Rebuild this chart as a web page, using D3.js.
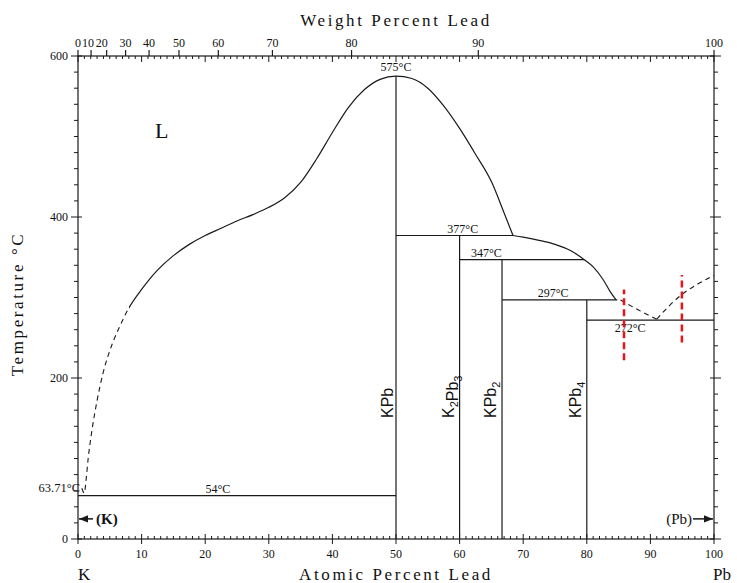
<!DOCTYPE html>
<html>
<head>
<meta charset="utf-8">
<script src="https://cdn.jsdelivr.net/npm/d3@7"></script>
<style>
  body { margin: 0; background: #fff; }
  text { fill: #111; }
</style>
</head>
<body>
<script>
// K-Pb phase diagram

// liquidus pieces, [atomic % Pb, temperature °C]
var liqNearK = [[0.6, 63], [1.0, 57], [1.25, 72], [1.6, 100], [2.1, 130], [3.0, 172], [4.0, 208], [5.0, 234], [6.5, 263]];
var liqMain = [[8.0, 287], [10, 310], [12.5, 334], [15, 352], [17.5, 366], [20, 377], [22.5, 386], [25, 395], [27.5, 403],
               [30, 412], [32.5, 424], [35, 443], [37.5, 472], [40, 505], [42.5, 536], [45, 558], [47.5, 571], [50, 575],
               [52.5, 572], [55, 560], [57.5, 538], [60, 510], [62.5, 478], [65, 444], [67, 405], [68.4, 377]];
var liqLow = [[68.4, 377], [70, 375], [72.5, 371], [75, 366], [77.5, 358], [79.6, 347], [81, 338], [82.5, 323], [83.7, 307], [84.6, 297]];
var liqPbA = [[85.3, 297], [88, 285], [91, 273]];
var liqPbB = [[91, 273], [93, 290], [95, 304], [97.5, 317], [100, 327.5]];
var dashEndAt = 8.0;

// invariant lines
var invT = [54, 377, 347, 297, 272];
var invFrom = [0, 50, 60, 66.67, 80];
var invTo = [50, 68.4, 79.6, 84.8, 100];
var invLabelAt = [22, 60.5, 64.2, 74.7, 86.8];

// compounds
var compAt = [50, 60, 66.67, 80];
var compTop = [575, 377, 347, 297];
var compNames = [[["K", ""], ["Pb", ""]], [["K", "2"], ["Pb", "3"]], [["K", ""], ["Pb", "2"]], [["K", ""], ["Pb", "4"]]];

var atTicks = [0, 10, 20, 30, 40, 50, 60, 70, 80, 90, 100];
var wtTicks = [0, 10, 20, 30, 40, 50, 60, 70, 80, 90, 100];
var tTicks = [0, 200, 400, 600];

// estimated red marks (at%, from T, to T)
var redAt = [85.85, 94.95];
var redFrom = [222, 244];
var redTo = [310, 328];

var W = 737, H = 583;
var svg = d3.select("body").append("svg").attr("width", W).attr("height", H);

var x = d3.scaleLinear().domain([0, 100]).range([78, 714]);
var y = d3.scaleLinear().domain([0, 600]).range([539, 56]);

function wtToAt(w) {
    var a = w / 207.2, b = (100 - w) / 39.098;
    return 100 * a / (a + b);
}

var serif = "'Liberation Serif', 'DejaVu Serif', serif";
var sans = "'Liberation Sans', Arial, sans-serif";
var ink = "#1a1a1a";

var defs = svg.append("defs");
var g = svg.append("g");

// frame
g.append("rect").attr("x", x(0)).attr("y", y(600)).attr("width", x(100) - x(0)).attr("height", y(0) - y(600))
    .attr("fill", "none").attr("stroke", ink).attr("stroke-width", 1.2);

// bottom and top atomic ticks
var atMinor = d3.range(0, 101, 1);
atMinor.forEach(function(a) {
    var major = a % 10 == 0;
    g.append("line").attr("x1", x(a)).attr("x2", x(a))
        .attr("y1", y(0) + (major ? 5 : 0)).attr("y2", y(0) - (major ? 5 : 3))
        .attr("stroke", ink).attr("stroke-width", 1);
    g.append("line").attr("x1", x(a)).attr("x2", x(a))
        .attr("y1", y(600)).attr("y2", y(600) + (major ? 6 : 3))
        .attr("stroke", ink).attr("stroke-width", 1);
});
// weight ticks point up
wtTicks.forEach(function(w) {
    g.append("line").attr("x1", x(wtToAt(w))).attr("x2", x(wtToAt(w)))
        .attr("y1", y(600)).attr("y2", y(600) - 6)
        .attr("stroke", ink).attr("stroke-width", 1.2);
});
// temperature ticks, both sides
d3.range(0, 601, 20).forEach(function(t) {
    var major = t % 200 == 0;
    g.append("line").attr("x1", x(0) - (major ? 7 : 4)).attr("x2", x(0) + (major ? 4 : 0))
        .attr("y1", y(t)).attr("y2", y(t)).attr("stroke", ink).attr("stroke-width", 1);
    g.append("line").attr("x1", x(100) + (major ? 7 : 4)).attr("x2", x(100) - (major ? 4 : 0))
        .attr("y1", y(t)).attr("y2", y(t)).attr("stroke", ink).attr("stroke-width", 1);
});

// tick labels
g.selectAll(".atl").data(atTicks).enter().append("text")
    .attr("x", function(d) { return x(d); }).attr("y", y(0) + 19)
    .attr("text-anchor", "middle").attr("font-family", serif).attr("font-size", 12)
    .text(function(d) { return d; });
g.selectAll(".wtl").data(wtTicks).enter().append("text")
    .attr("x", function(d) {
        // crowded labels near K are nudged left
        var nudge = d == 10 ? -3 : (d == 20 ? -5 : 0);
        return x(wtToAt(d)) + nudge;
    })
    .attr("y", y(600) - 9)
    .attr("text-anchor", "middle").attr("font-family", serif).attr("font-size", 12)
    .text(function(d) { return d; });
g.selectAll(".tl").data(tTicks).enter().append("text")
    .attr("x", x(0) - 10).attr("y", function(d) { return y(d) + 4; })
    .attr("text-anchor", "end").attr("font-family", serif).attr("font-size", 12)
    .text(function(d) { return d; });

// axis titles
g.append("text").attr("x", 396).attr("y", 26).attr("text-anchor", "middle")
    .attr("font-family", serif).attr("font-size", 17).attr("letter-spacing", "2.6px")
    .text("Weight Percent Lead");
g.append("text").attr("x", 396).attr("y", 580).attr("text-anchor", "middle")
    .attr("font-family", serif).attr("font-size", 17).attr("letter-spacing", "2.6px")
    .text("Atomic Percent Lead");
g.append("text").attr("transform", "translate(23,304) rotate(-90)").attr("text-anchor", "middle")
    .attr("font-family", serif).attr("font-size", 17).attr("letter-spacing", "2.6px")
    .text("Temperature °C");
g.append("text").attr("x", x(0)).attr("y", 580).attr("font-family", serif).attr("font-size", 17).text("K");
g.append("text").attr("x", x(100) - 1).attr("y", 580).attr("font-family", serif).attr("font-size", 17).text("Pb");

// invariant lines
invT.forEach(function(t, i) {
    g.append("line").attr("x1", x(invFrom[i])).attr("x2", x(invTo[i]))
        .attr("y1", y(t)).attr("y2", y(t)).attr("stroke", ink).attr("stroke-width", 1.2);
    g.append("text").attr("x", x(invLabelAt[i]))
        .attr("y", t == 272 ? y(t) + 12 : y(t) - 3)
        .attr("text-anchor", "middle").attr("font-family", serif).attr("font-size", 12)
        .text(t + "°C");
});

// compound lines and labels
compAt.forEach(function(a, i) {
    g.append("line").attr("x1", x(a)).attr("x2", x(a)).attr("y1", y(0)).attr("y2", y(compTop[i]))
        .attr("stroke", ink).attr("stroke-width", 1.2);
    var hasSub = compNames[i].some(function(p) { return p[1] != ""; });
    var t = g.append("text")
        .attr("transform", "translate(" + (x(a) - (hasSub ? 6 : 3)) + ",418) rotate(-90)")
        .attr("font-family", sans).attr("font-size", 16);
    compNames[i].forEach(function(p) {
        t.append("tspan").text(p[0]);
        if (p[1] != "") {
            t.append("tspan").attr("font-size", 11).attr("dy", 4).text(p[1]);
            t.append("tspan").attr("dy", -4).text("");
        }
    });
});

// 575 label at congruent melting point
g.append("text").attr("x", x(50)).attr("y", y(575) - 5).attr("text-anchor", "middle")
    .attr("font-family", serif).attr("font-size", 12).text("575°C");
g.append("text").attr("x", x(0) + 2).attr("y", y(63.71) + 4).attr("text-anchor", "end")
    .attr("font-family", serif).attr("font-size", 12.5).text("63.71°C");

// liquidus: the K side is one smooth curve, dashed below dashEndAt
defs.append("clipPath").attr("id", "clipDash").append("rect")
    .attr("x", 0).attr("y", 0).attr("width", x(dashEndAt)).attr("height", H);
defs.append("clipPath").attr("id", "clipSolid").append("rect")
    .attr("x", x(dashEndAt)).attr("y", 0).attr("width", W).attr("height", H);

var line = d3.line().x(function(d) { return x(d[0]); }).y(function(d) { return y(d[1]); }).curve(d3.curveMonotoneX);
var liqLeft = liqNearK.concat(liqMain);
g.append("path").attr("d", line(liqLeft)).attr("fill", "none").attr("stroke", ink).attr("stroke-width", 1.2)
    .attr("clip-path", "url(#clipSolid)");
g.append("path").attr("d", line(liqLeft)).attr("fill", "none").attr("stroke", ink).attr("stroke-width", 1.1)
    .attr("stroke-dasharray", "5,4").attr("clip-path", "url(#clipDash)");
g.append("path").attr("d", line(liqLow)).attr("fill", "none").attr("stroke", ink).attr("stroke-width", 1.2);
[liqPbA, liqPbB].forEach(function(p) {
    g.append("path").attr("d", line(p)).attr("fill", "none").attr("stroke", ink).attr("stroke-width", 1.1)
        .attr("stroke-dasharray", "5,4");
});

// L
g.append("text").attr("x", 155).attr("y", 138).attr("font-family", serif).attr("font-size", 22).text("L");

// terminal solid solutions
var arrowY = y(25);
defs.append("marker").attr("id", "arr").attr("viewBox", "0 0 10 10").attr("refX", 10).attr("refY", 5)
    .attr("markerWidth", 8).attr("markerHeight", 6).attr("orient", "auto-start-reverse")
    .append("path").attr("d", "M0,1L10,5L0,9z").attr("fill", ink);
g.append("line").attr("x1", x(0) + 15).attr("x2", x(0) + 1).attr("y1", arrowY).attr("y2", arrowY)
    .attr("stroke", ink).attr("stroke-width", 1.5).attr("marker-end", "url(#arr)");
g.append("text").attr("x", x(0) + 18).attr("y", arrowY + 5).attr("font-family", serif).attr("font-size", 15)
    .attr("font-weight", "bold").text("(K)");
g.append("line").attr("x1", x(100) - 21).attr("x2", x(100) - 1).attr("y1", arrowY).attr("y2", arrowY)
    .attr("stroke", ink).attr("stroke-width", 1.5).attr("marker-end", "url(#arr)");
g.append("text").attr("x", x(100) - 22).attr("y", arrowY + 5).attr("text-anchor", "end")
    .attr("font-family", serif).attr("font-size", 15).text("(Pb)");

// red dashed marks
redAt.forEach(function(a, i) {
    g.append("line").attr("x1", x(a)).attr("x2", x(a)).attr("y1", y(redFrom[i])).attr("y2", y(redTo[i]))
        .attr("stroke", "#e8141c").attr("stroke-width", 2.5).attr("stroke-dasharray", "7,4");
});
</script>
</body>
</html>
